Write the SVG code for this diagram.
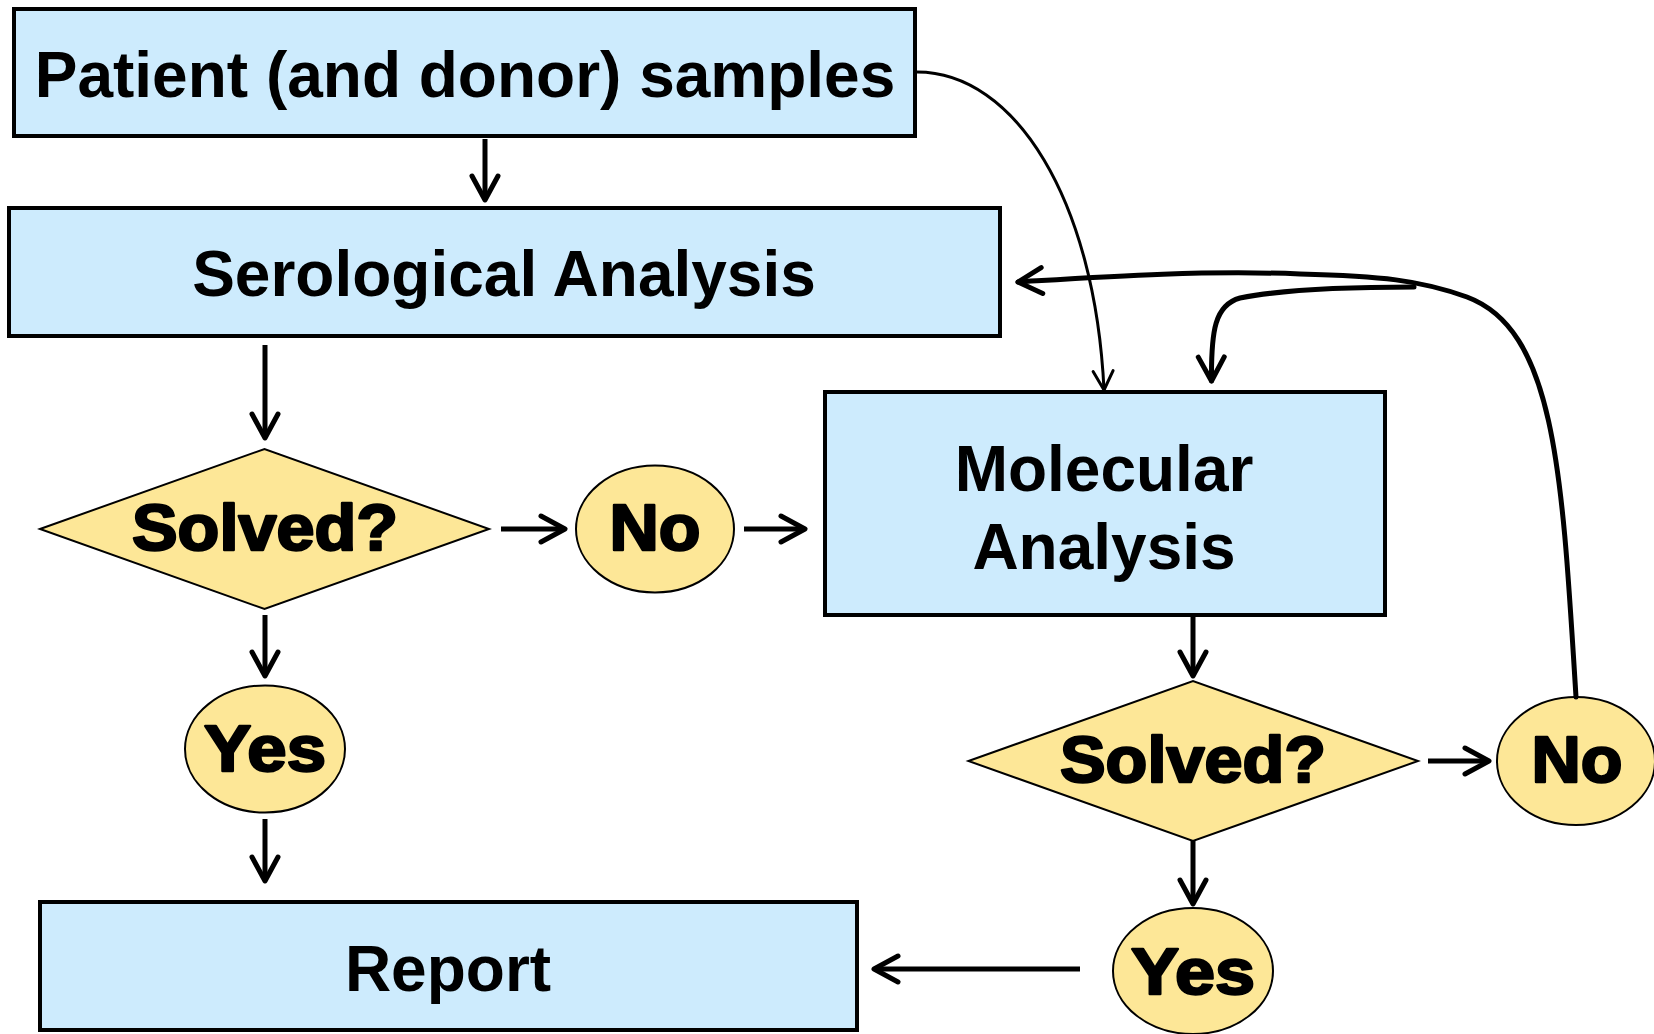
<svg xmlns="http://www.w3.org/2000/svg" width="1654" height="1034" viewBox="0 0 1654 1034">
  <style>
    .box { fill: #cdebfd; stroke: #000; stroke-width: 4; }
    .dec { fill: #fde797; stroke: #000; stroke-width: 2; }
    .lbl { font-family: "Liberation Sans", Arial, Helvetica, sans-serif; font-weight: bold; font-size: 64px; fill: #000; text-anchor: middle; }
    .heavy { font-family: "Liberation Sans", Arial, Helvetica, sans-serif; font-weight: bold; font-size: 64px; fill: #000; stroke: #000; stroke-width: 2.4; stroke-linejoin: round; text-anchor: middle; }
    .arrow { fill: none; stroke: #000; stroke-width: 5; marker-end: url(#head); }
    .thin { fill: none; stroke: #000; stroke-width: 3; marker-end: url(#headThin); }
    .loop { fill: none; stroke: #000; stroke-width: 5; stroke-linecap: round; }
  </style>
  <defs>
    <marker id="head" markerUnits="userSpaceOnUse" orient="auto" refX="0" refY="0" markerWidth="60" markerHeight="60" viewBox="-30 -30 60 60" overflow="visible">
      <path d="M-24,-13 L0,0 L-24,13" fill="none" stroke="#000" stroke-width="5" stroke-linecap="round" stroke-linejoin="round"/>
    </marker>
    <marker id="headThin" markerUnits="userSpaceOnUse" orient="auto" refX="0" refY="0" markerWidth="60" markerHeight="60" viewBox="-30 -30 60 60" overflow="visible">
      <path d="M-19,-10 L0,0 L-19,10" fill="none" stroke="#000" stroke-width="3" stroke-linecap="round" stroke-linejoin="round"/>
    </marker>
  </defs>

  <!-- process boxes -->
  <g id="patient">
    <rect class="box" x="14" y="9" width="901" height="127"/>
    <text class="lbl" x="465" y="97">Patient (and donor) samples</text>
  </g>
  <g id="serological">
    <rect class="box" x="9" y="208" width="991" height="128"/>
    <text class="lbl" x="504" y="296">Serological Analysis</text>
  </g>
  <g id="molecular">
    <rect class="box" x="825" y="392" width="560" height="223"/>
    <text class="lbl" x="1104" y="491">Molecular</text>
    <text class="lbl" x="1104" y="569">Analysis</text>
  </g>
  <g id="report">
    <rect class="box" x="40" y="902" width="817" height="128"/>
    <text class="lbl" x="448" y="991">Report</text>
  </g>

  <!-- decisions -->
  <g id="solved1">
    <polygon class="dec" points="40,529 264.5,449 489,529 264.5,609"/>
    <text class="heavy" x="265" y="550" textLength="266" lengthAdjust="spacingAndGlyphs">Solved?</text>
  </g>
  <g id="solved2">
    <polygon class="dec" points="968.5,761 1193,681 1418,761 1193,841"/>
    <text class="heavy" x="1193" y="782" textLength="266" lengthAdjust="spacingAndGlyphs">Solved?</text>
  </g>

  <!-- outcomes -->
  <g id="no1">
    <ellipse class="dec" cx="655" cy="529" rx="79" ry="63.5"/>
    <text class="heavy" x="655" y="550" textLength="91" lengthAdjust="spacingAndGlyphs">No</text>
  </g>
  <g id="yes1">
    <ellipse class="dec" cx="265" cy="749" rx="80" ry="63.5"/>
    <text class="heavy" x="265" y="771" textLength="122" lengthAdjust="spacingAndGlyphs">Yes</text>
  </g>
  <g id="no2">
    <ellipse class="dec" cx="1576" cy="761" rx="79" ry="64"/>
    <text class="heavy" x="1577" y="782" textLength="91" lengthAdjust="spacingAndGlyphs">No</text>
  </g>
  <g id="yes2">
    <ellipse class="dec" cx="1193" cy="971" rx="80" ry="63"/>
    <text class="heavy" x="1193" y="994" textLength="124" lengthAdjust="spacingAndGlyphs">Yes</text>
  </g>

  <!-- connectors -->
  <g id="connectors">
    <path class="arrow" d="M485,139 L485,200"/>
    <path class="arrow" d="M265,345 L265,438"/>
    <path class="arrow" d="M501,529 L565,529"/>
    <path class="arrow" d="M744,529 L805,529"/>
    <path class="arrow" d="M265,615 L265,676"/>
    <path class="arrow" d="M265,819 L265,881"/>
    <path class="arrow" d="M1193,616 L1193,676"/>
    <path class="arrow" d="M1428,761 L1489,761"/>
    <path class="arrow" d="M1193,841 L1193,904"/>
    <path class="arrow" d="M1080,969 L874,969"/>
    <!-- samples go straight to molecular typing as well -->
    <path class="thin" d="M917,72 C1015,72 1095,200 1104,390"/>
    <!-- unresolved: back to serology and to molecular -->
    <path class="loop" marker-end="url(#head)" d="M1576,697 C1562,470 1555,330 1467,297 C1420,280 1380,276 1300,274 C1200,270 1100,277 1018,282"/>
    <path class="loop" marker-end="url(#head)" d="M1414,287 C1350,287 1280,290 1240,298 C1215,305 1211,330 1211.5,381"/>
  </g>
</svg>
